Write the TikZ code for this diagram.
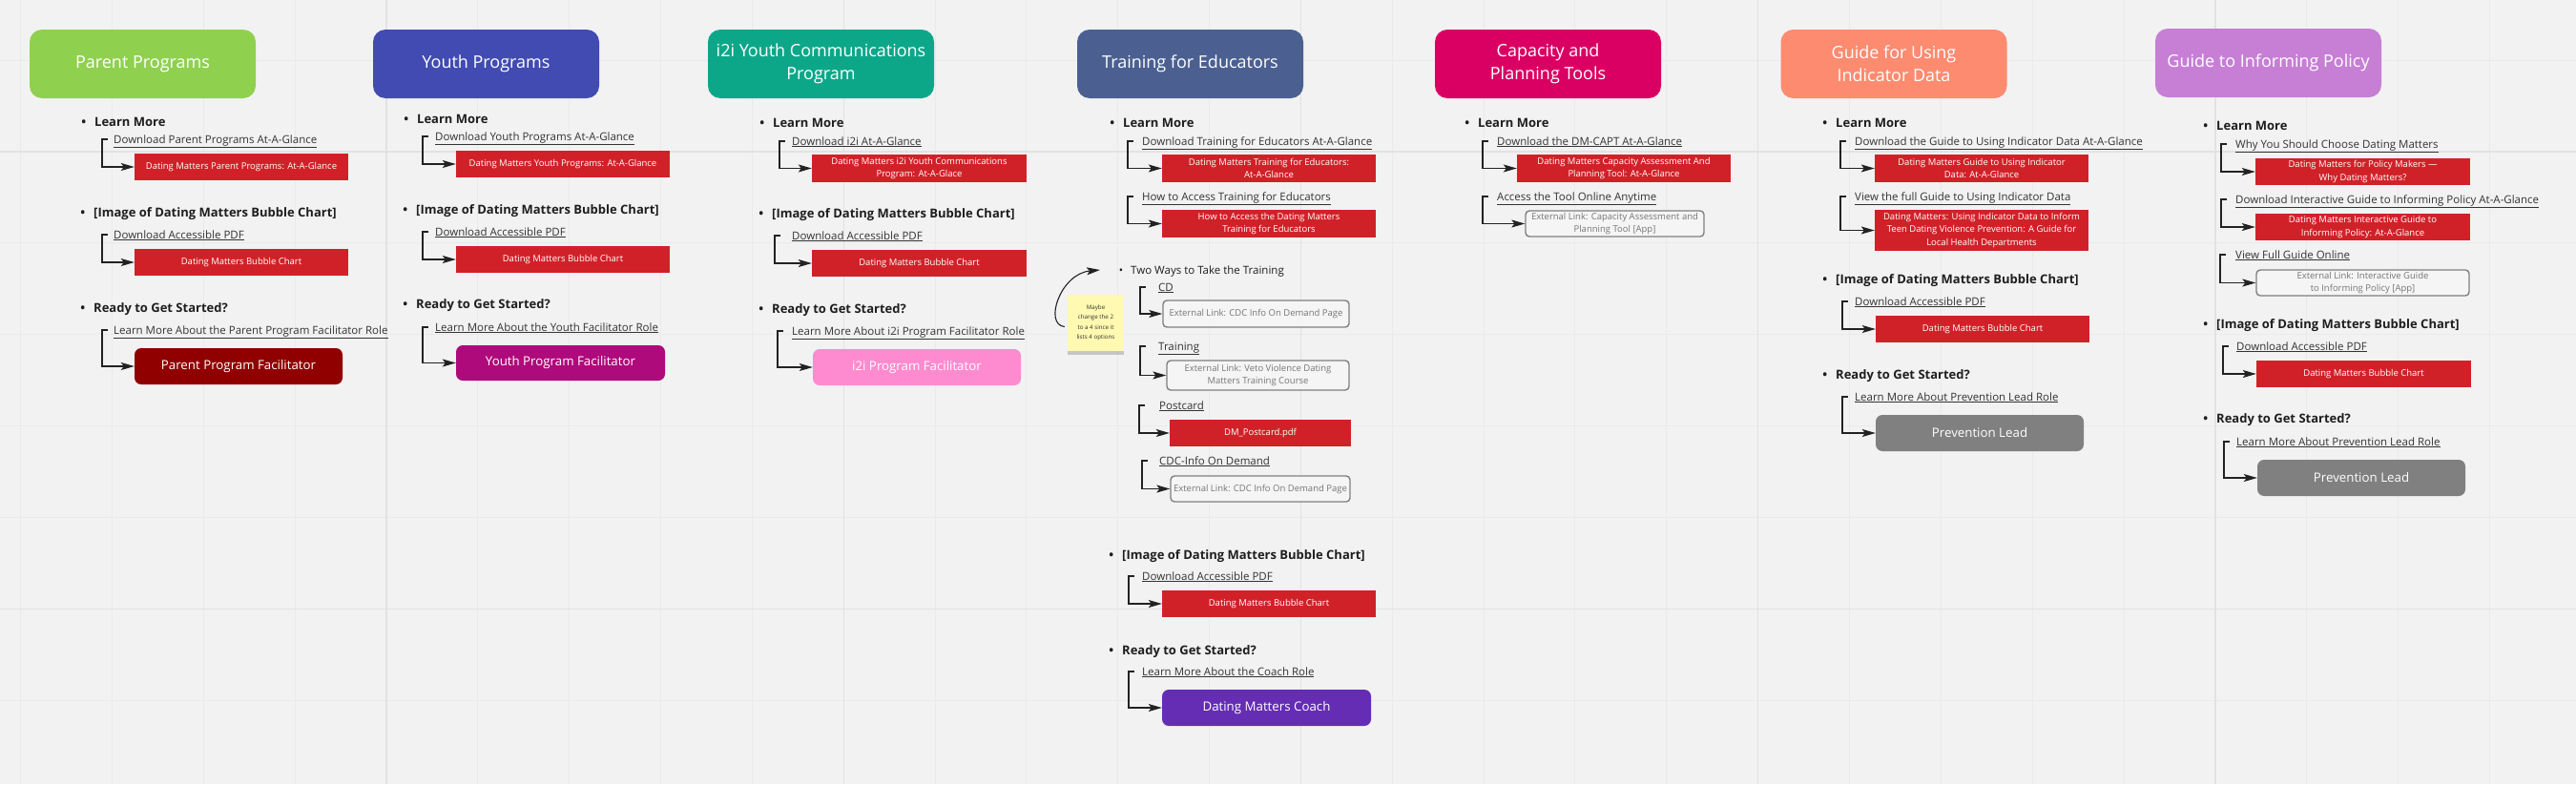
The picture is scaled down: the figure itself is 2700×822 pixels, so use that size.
\documentclass[tikz,border=0pt]{standalone}
\usepackage{fontspec}
\setmainfont{Open Sans}
\usetikzlibrary{calc,arrows.meta,shadows}
\definecolor{bg}{HTML}{F2F2F2}
\definecolor{gminor}{HTML}{EAEAEA}
\definecolor{gmajor}{HTML}{E2E2E2}
\definecolor{hd}{HTML}{1E1E1E}
\definecolor{lkc}{HTML}{333333}
\definecolor{conc}{HTML}{222222}
\definecolor{boxred}{HTML}{D12128}
\definecolor{gbord}{HTML}{7F7F7F}
\definecolor{gfill}{HTML}{F5F5F5}
\definecolor{gtext}{HTML}{767676}
\definecolor{cParent}{HTML}{8FD14F}
\definecolor{cYouth}{HTML}{414BB2}
\definecolor{cItoI}{HTML}{0CA789}
\definecolor{cTrain}{HTML}{4B6091}
\definecolor{cCap}{HTML}{DA0063}
\definecolor{cGuide}{HTML}{FC8B70}
\definecolor{cPol}{HTML}{C67FD5}
\definecolor{fParent}{HTML}{900000}
\definecolor{fYouth}{HTML}{AE0A7B}
\definecolor{fItoI}{HTML}{FE8BCF}
\definecolor{fCoach}{HTML}{652DB4}
\definecolor{fLead}{HTML}{808080}
\definecolor{stickyc}{HTML}{FFF9B1}
\newcommand\lnkul[1]{\underline{#1}}
\newcommand\cn[3]{\draw[conn] ($(#1.west)+(-#3+6,0)$) -- ($(#1.west)+(-#3,0)$) |- (#2.west);}
\begin{document}
\begin{tikzpicture}[x=1pt,y=-1pt,
  hdr/.style={rounded corners=13pt, minimum width=237pt, minimum height=72pt, inner sep=0pt, text=white, align=center, font=\fontsize{18}{24}\selectfont},
  bh/.style={anchor=west, inner sep=0pt, text height=9.3pt, text depth=0pt, font=\fontsize{13}{16}\selectfont\bfseries, text=hd},
  bn/.style={anchor=west, inner sep=0pt, text height=8.2pt, text depth=0pt, font=\fontsize{11.5}{14}\selectfont, text=hd},
  lk/.style={anchor=west, inner sep=0pt, text height=8.2pt, text depth=0pt, font=\fontsize{11.5}{14}\selectfont, text=lkc},
  rb/.style={fill=boxred, text=white, inner sep=0pt, minimum width=224pt, minimum height=28pt, align=center, font=\fontsize{9.5}{13.3}\selectfont},
  gb/.style={draw=gbord, line width=1.4pt, rounded corners=4pt, fill=gfill, text=gtext, inner sep=0pt, align=center, font=\fontsize{9.5}{13.3}\selectfont},
  fb/.style={rounded corners=7pt, minimum width=218pt, minimum height=38pt, inner sep=0pt, text=white, font=\fontsize{13.3}{16}\selectfont},
  conn/.style={draw=conc, line width=1.1pt, -{Stealth[length=14pt,width=8pt,inset=3pt]}},
  sticky/.style={fill=stickyc, minimum width=59pt, minimum height=59pt, inner sep=0pt, align=center, text=lkc, font=\fontsize{6.2}{10.4}\selectfont, drop shadow={shadow xshift=0pt, shadow yshift=-4pt, opacity=0.18, fill=black}}
]
% background and grid
\fill[bg] (0,0) rectangle (2700,822);
\useasboundingbox (0,0) rectangle (2700,822);
\foreach \k in {0,...,28} {\pgfmathsetmacro\xx{21.5+\k*95.85}\draw[gminor, line width=1pt] (\xx,0) -- (\xx,822);}
\foreach \k in {0,...,8} {\pgfmathsetmacro\yy{63.2+\k*95.85}\draw[gminor, line width=1pt] (0,\yy) -- (2700,\yy);}
\foreach \k in {4,9,14,19,24} {\pgfmathsetmacro\xx{21.5+\k*95.85}\draw[gmajor, line width=1.2pt] (\xx,0) -- (\xx,822);}
\foreach \k in {1,6} {\pgfmathsetmacro\yy{63.2+\k*95.85}\draw[gmajor, line width=1.2pt] (0,\yy) -- (2700,\yy);}

% ---------------- Parent Programs
\node[hdr, fill=cParent] (hP) at (149.5,67) {Parent Programs};
\node[bh] (p1) at (99,128) {\llap{\textbullet\hspace{9pt}}Learn More};
\node[lk] (pl1) at (119,146) {\lnkul{Download Parent Programs At-A-Glance}};
\node[rb] (pb1) at (253,175) {Dating Matters Parent Programs: At-A-Glance};
\node[bh] (p2) at (98,223) {\llap{\textbullet\hspace{9pt}}[Image of Dating Matters Bubble Chart]};
\node[lk] (pl2) at (119,246) {\lnkul{Download Accessible PDF}};
\node[rb] (pb2) at (253,275) {Dating Matters Bubble Chart};
\node[bh] (p3) at (98,323) {\llap{\textbullet\hspace{9pt}}Ready to Get Started?};
\node[lk] (pl3) at (119,346) {\lnkul{Learn More About the Parent Program Facilitator Role}};
\node[fb, fill=fParent] (pf) at (250,384) {Parent Program Facilitator};
\cn{pl1}{pb1}{12}
\cn{pl2}{pb2}{12}
\cn{pl3}{pf}{12}

% ---------------- Youth Programs
\node[hdr, fill=cYouth] (hY) at (509.5,67) {Youth Programs};
\node[bh] (y1) at (437,125) {\llap{\textbullet\hspace{9pt}}Learn More};
\node[lk] (yl1) at (456,143) {\lnkul{Download Youth Programs At-A-Glance}};
\node[rb] (yb1) at (590,172) {Dating Matters Youth Programs: At-A-Glance};
\node[bh] (y2) at (436,220) {\llap{\textbullet\hspace{9pt}}[Image of Dating Matters Bubble Chart]};
\node[lk] (yl2) at (456,243) {\lnkul{Download Accessible PDF}};
\node[rb] (yb2) at (590,272) {Dating Matters Bubble Chart};
\node[bh] (y3) at (436,319) {\llap{\textbullet\hspace{9pt}}Ready to Get Started?};
\node[lk] (yl3) at (456,343) {\lnkul{Learn More About the Youth Facilitator Role}};
\node[fb, fill=fYouth, minimum width=219pt, minimum height=37pt] (yf) at (587.5,380.5) {Youth Program Facilitator};
\cn{yl1}{yb1}{13}
\cn{yl2}{yb2}{13}
\cn{yl3}{yf}{13}

% ---------------- i2i
\node[hdr, fill=cItoI] (hI) at (860.5,67) {i2i Youth Communications\\Program};
\node[bh] (i1) at (810,129) {\llap{\textbullet\hspace{9pt}}Learn More};
\node[lk] (il1) at (830,148) {\lnkul{Download i2i At-A-Glance}};
\node[rb, minimum width=225pt, minimum height=29pt] (ib1) at (963.5,176.5) {Dating Matters i2i Youth Communications\\Program: At-A-Glace};
\node[bh] (i2) at (809,224) {\llap{\textbullet\hspace{9pt}}[Image of Dating Matters Bubble Chart]};
\node[lk] (il2) at (830,247) {\lnkul{Download Accessible PDF}};
\node[rb, minimum width=225pt] (ib2) at (963.5,276) {Dating Matters Bubble Chart};
\node[bh] (i3) at (809,324) {\llap{\textbullet\hspace{9pt}}Ready to Get Started?};
\node[lk] (il3) at (830,347) {\lnkul{Learn More About i2i Program Facilitator Role}};
\node[fb, fill=fItoI] (if) at (961,385) {i2i Program Facilitator};
\cn{il1}{ib1}{13}
\cn{il2}{ib2}{18}
\cn{il3}{if}{15}

% ---------------- Training for Educators
\node[hdr, fill=cTrain] (hT) at (1247.5,67) {Training for Educators};
\node[bh] (t1) at (1177,129) {\llap{\textbullet\hspace{9pt}}Learn More};
\node[lk] (tl1) at (1197,148) {\lnkul{Download Training for Educators At-A-Glance}};
\node[rb, minimum height=29pt] (tb1) at (1330,176.5) {Dating Matters Training for Educators:\\At-A-Glance};
\node[lk] (tl2) at (1197,206) {\lnkul{How to Access Training for Educators}};
\node[rb, minimum height=29pt] (tb2) at (1330,234.5) {How to Access the Dating Matters\\Training for Educators};
\node[bn] (tw) at (1185,283) {\llap{\textbullet\hspace{8pt}}Two Ways to Take the Training};
\node[lk] (tl3) at (1214,301) {\lnkul{CD}};
\node[gb, minimum width=195pt, minimum height=28pt] (tg1) at (1316.5,329) {External Link: CDC Info On Demand Page};
\node[lk] (tl4) at (1214,363) {\lnkul{Training}};
\node[gb, minimum width=191pt, minimum height=31pt] (tg2) at (1318.5,393.5) {External Link: Veto Violence Dating\\Matters Training Course};
\node[lk] (tl5) at (1215,425) {\lnkul{Postcard}};
\node[rb, minimum width=190pt] (tb3) at (1321,454) {DM\_Postcard.pdf};
\node[lk] (tl6) at (1215,483) {\lnkul{CDC-Info On Demand}};
\node[gb, minimum width=188pt, minimum height=27pt] (tg3) at (1321,512.5) {External Link: CDC Info On Demand Page};
\node[bh] (t2) at (1176,582) {\llap{\textbullet\hspace{9pt}}[Image of Dating Matters Bubble Chart]};
\node[lk] (tl7) at (1197,604) {\lnkul{Download Accessible PDF}};
\node[rb] (tb4) at (1330,633) {Dating Matters Bubble Chart};
\node[bh] (t3) at (1176,682) {\llap{\textbullet\hspace{9pt}}Ready to Get Started?};
\node[lk] (tl8) at (1197,704) {\lnkul{Learn More About the Coach Role}};
\node[fb, fill=fCoach, minimum width=219pt] (tf) at (1327.5,742) {Dating Matters Coach};
\cn{tl1}{tb1}{15}
\cn{tl2}{tb2}{15}
\cn{tl3}{tg1}{19}
\cn{tl4}{tg2}{19}
\cn{tl5}{tb3}{21}
\cn{tl6}{tg3}{18}
\cn{tl7}{tb4}{14}
\cn{tl8}{tf}{14}
\node[sticky] (st) at (1148.5,338.5) {Maybe\\change the 2\\to a 4 since it\\lists 4 options};
\coordinate (twtip) at ($(tw.west)+(-32,0)$);
\draw[conn] ($(st.west)+(-3,4)$) .. controls +(-22,-2) and +(-42,4) .. (twtip);

% ---------------- Capacity and Planning Tools
\node[hdr, fill=cCap] (hC) at (1622.5,67) {Capacity and\\Planning Tools};
\node[bh] (c1) at (1549,129) {\llap{\textbullet\hspace{9pt}}Learn More};
\node[lk] (cl1) at (1569,148) {\lnkul{Download the DM-CAPT At-A-Glance}};
\node[rb, minimum height=29pt] (cb1) at (1702,176.5) {Dating Matters Capacity Assessment And\\Planning Tool: At-A-Glance};
\node[lk] (cl2) at (1569,206) {\lnkul{Access the Tool Online Anytime}};
\node[gb, minimum width=187pt, minimum height=27pt] (cg1) at (1692.5,234.5) {External Link: Capacity Assessment and\\Planning Tool [App]};
\cn{cl1}{cb1}{15}
\cn{cl2}{cg1}{15}

% ---------------- Guide for Using Indicator Data
\node[hdr, fill=cGuide] (hG) at (1985,67) {Guide for Using\\Indicator Data};
\node[bh] (g1) at (1924,129) {\llap{\textbullet\hspace{9pt}}Learn More};
\node[lk] (gl1) at (1944,148) {\lnkul{Download the Guide to Using Indicator Data At-A-Glance}};
\node[rb, minimum height=29pt] (gb1) at (2077,176.5) {Dating Matters Guide to Using Indicator\\Data: At-A-Glance};
\node[lk] (gl2) at (1944,206) {\lnkul{View the full Guide to Using Indicator Data}};
\node[rb, minimum height=43pt] (gb2) at (2077,241.5) {Dating Matters: Using Indicator Data to Inform\\Teen Dating Violence Prevention: A Guide for\\Local Health Departments};
\node[bh] (g2) at (1924,293) {\llap{\textbullet\hspace{9pt}}[Image of Dating Matters Bubble Chart]};
\node[lk] (gl3) at (1944,316) {\lnkul{Download Accessible PDF}};
\node[rb] (gb3) at (2078,345) {Dating Matters Bubble Chart};
\node[bh] (g3) at (1924,393) {\llap{\textbullet\hspace{9pt}}Ready to Get Started?};
\node[lk] (gl4) at (1944,416) {\lnkul{Learn More About Prevention Lead Role}};
\node[fb, fill=fLead] (gf) at (2075,454) {Prevention Lead};
\cn{gl1}{gb1}{15}
\cn{gl2}{gb2}{15}
\cn{gl3}{gb3}{13}
\cn{gl4}{gf}{13}

% ---------------- Guide to Informing Policy
\node[hdr, fill=cPol] (hPo) at (2377.5,66) {Guide to Informing Policy};
\node[bh] (o1) at (2323,132) {\llap{\textbullet\hspace{9pt}}Learn More};
\node[lk] (ol1) at (2343,151) {\lnkul{Why You Should Choose Dating Matters}};
\node[rb, minimum width=225pt] (ob1) at (2476.5,180) {Dating Matters for Policy Makers —\\Why Dating Matters?};
\node[lk] (ol2) at (2343,209) {\lnkul{Download Interactive Guide to Informing Policy At-A-Glance}};
\node[rb, minimum width=225pt] (ob2) at (2476.5,238) {Dating Matters Interactive Guide to\\Informing Policy: At-A-Glance};
\node[lk] (ol3) at (2343,267) {\lnkul{View Full Guide Online}};
\node[gb, minimum width=223pt, minimum height=27pt] (og1) at (2476.5,296.5) {External Link: Interactive Guide\\to Informing Policy [App]};
\node[bh] (o2) at (2323,340) {\llap{\textbullet\hspace{9pt}}[Image of Dating Matters Bubble Chart]};
\node[lk] (ol4) at (2344,363) {\lnkul{Download Accessible PDF}};
\node[rb, minimum width=225pt] (ob3) at (2477.5,392) {Dating Matters Bubble Chart};
\node[bh] (o3) at (2323,439) {\llap{\textbullet\hspace{9pt}}Ready to Get Started?};
\node[lk] (ol5) at (2344,463) {\lnkul{Learn More About Prevention Lead Role}};
\node[fb, fill=fLead] (of) at (2475,501) {Prevention Lead};
\cn{ol1}{ob1}{15}
\cn{ol2}{ob2}{15}
\cn{ol3}{og1}{16}
\cn{ol4}{ob3}{14}
\cn{ol5}{of}{13}
\end{tikzpicture}
\end{document}
